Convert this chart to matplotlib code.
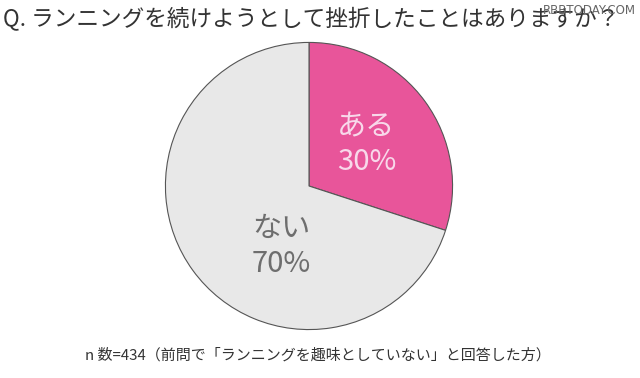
import matplotlib
matplotlib.use("Agg")
import matplotlib.pyplot as plt

plt.rcParams['font.family'] = ['Noto Sans CJK JP', 'DejaVu Sans']

labels = ["ある", "ない"]
values = [30, 70]
colors = ["#E8559A", "#E8E8E8"]
text_colors = ["#F8D8EA", "#6E6E6E"]
label_pos = [(0.40, 0.29), (-0.19, -0.42)]

title = "Q. ランニングを続けようとして挫折したことはありますか？"
note = "n 数=434（前問で「ランニングを趣味としていない」と回答した方）"

fig = plt.figure(figsize=(6.4, 3.78), dpi=100)
fig.patch.set_facecolor("white")

ax = fig.add_axes([163 / 640, 1 - 331 / 378, 292 / 640, 290 / 378])
ax.pie(values, colors=colors, startangle=90, counterclock=False,
       wedgeprops=dict(edgecolor="#555555", linewidth=0.8))
ax.set_xlim(-1.01, 1.01)
ax.set_ylim(-1.01, 1.01)
ax.set_aspect("equal")

for lab, v, c, (x, y) in zip(labels, values, text_colors, label_pos):
    ax.text(x, y, f"{lab}\n{v}%", ha="center", va="center", fontsize=21,
            color=c, linespacing=1.2)

fig.text(3 / 640, 1 - 18 / 378, title, ha="left", va="center",
         fontsize=16.3, color="#333333")
fig.text(636 / 640, 1 - 10 / 378, "RBBTODAY.COM", ha="right", va="center",
         fontsize=8.5, color="#666666", family=["DejaVu Sans"])
fig.text(318 / 640, 1 - 355 / 378, note, ha="center", va="center",
         fontsize=10.8, color="#333333")

fig.savefig("out.png", dpi=100)
